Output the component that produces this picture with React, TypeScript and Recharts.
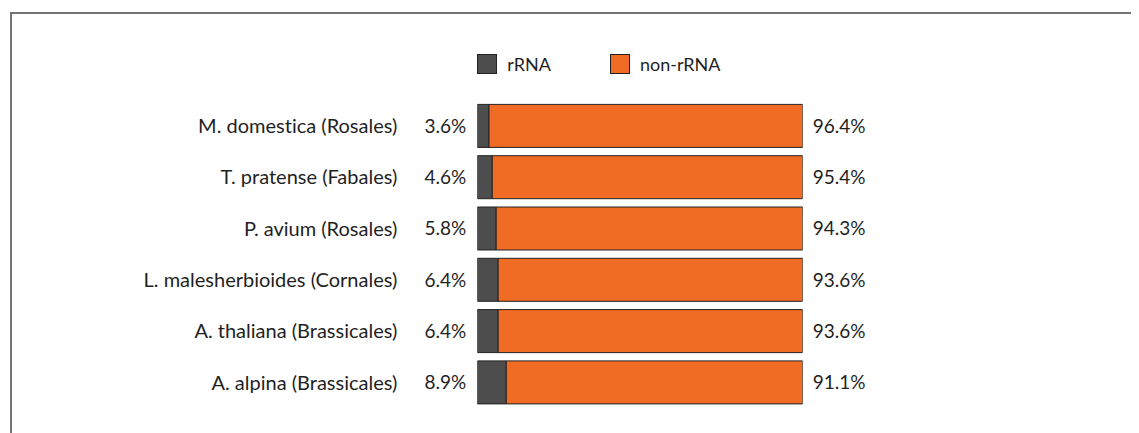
import React from 'react';
import { BarChart, Bar, XAxis, YAxis, Legend, LabelList } from 'recharts';

const species = [
  'M. domestica (Rosales)',
  'T. pratense (Fabales)',
  'P. avium (Rosales)',
  'L. malesherbioides (Cornales)',
  'A. thaliana (Brassicales)',
  'A. alpina (Brassicales)',
];
const rRNA = [3.6, 4.6, 5.8, 6.4, 6.4, 8.9];
const nonRRNA = [96.4, 95.4, 94.3, 93.6, 93.6, 91.1];

const DARK = '#4d4d4d';
const ORANGE = '#f06b23';
const EDGE = '#222';
const TEXT = '#1f1f1f';

const data = species.map((name, i) => ({ name, rRNA: rRNA[i], nonRRNA: nonRRNA[i] }));

const legendItems = [
  { label: 'rRNA', color: DARK },
  { label: 'non-rRNA', color: ORANGE },
];

const LegendBox = () => (
  <div style={{ display: 'flex', alignItems: 'center', fontSize: 18, color: TEXT }}>
    {legendItems.map((it) => (
      <div key={it.label} style={{ display: 'flex', alignItems: 'center', marginRight: 59 }}>
        <svg width={20} height={20} style={{ display: 'block' }}>
          <rect x={0.5} y={0.5} width={19} height={19} fill={it.color} stroke={EDGE} strokeWidth={1} />
        </svg>
        <span style={{ marginLeft: 10, lineHeight: '20px' }}>{it.label}</span>
      </div>
    ))}
  </div>
);

const pct = (v: number) => `${v}%`;

export default function App() {
  return (
    <div
      style={{
        position: 'relative',
        width: 1131,
        height: 425,
        fontFamily: 'Lato, sans-serif',
        fontVariantLigatures: 'none',
      }}
    >
      <div
        style={{
          position: 'absolute',
          top: 4,
          left: 2,
          right: 0,
          bottom: 0,
          borderTop: '2px solid #737373',
          borderLeft: '2px solid #737373',
        }}
      />
      <div style={{ position: 'absolute', top: 0, left: 0 }}>
        <BarChart
          width={1131}
          height={425}
          data={data}
          layout="vertical"
          margin={{ top: 92.4, right: 336.3, bottom: 24.8, left: 0 }}
          barSize={43}
        >
          <XAxis type="number" domain={[0, 100]} allowDataOverflow hide />
          <YAxis
            type="category"
            dataKey="name"
            width={469.3}
            axisLine={false}
            tickLine={false}
            tickSize={0}
            tickMargin={80}
            tick={{ fill: TEXT, fontSize: 20 }}
          />
          <Legend
            layout="horizontal"
            align="center"
            verticalAlign="middle"
            content={<LegendBox />}
            wrapperStyle={{ top: 46, left: 469.3, width: 400 }}
          />
          <Bar dataKey="rRNA" stackId="a" fill={DARK} stroke={EDGE} strokeWidth={1} isAnimationActive={false}>
            <LabelList dataKey="rRNA" position="left" offset={11} formatter={pct} fill={TEXT} fontSize={19} />
          </Bar>
          <Bar dataKey="nonRRNA" stackId="a" fill={ORANGE} stroke={EDGE} strokeWidth={1} isAnimationActive={false}>
            <LabelList dataKey="nonRRNA" position="right" offset={10} formatter={pct} fill={TEXT} fontSize={19} />
          </Bar>
        </BarChart>
      </div>
    </div>
  );
}
